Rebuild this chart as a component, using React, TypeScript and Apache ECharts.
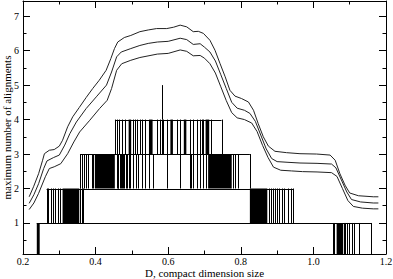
import React, { useEffect, useRef } from "react";
import * as echarts from "echarts";

// ---- data ----
const xTickLabels = ["0.2", "0.4", "0.6", "0.8", "1.0", "1.2"];
const yMajorTicks = [1, 2, 3, 4, 5, 6, 7];
const yMinorTicks = [0.5, 1.5, 2.5, 3.5, 4.5, 5.5, 6.5];

const upperCurve = [
  [0.217, 1.76], [0.229, 2.05], [0.243, 2.43], [0.254, 2.82], [0.259, 3.01], [0.2725, 3.11],
  [0.286, 3.13], [0.3, 3.23], [0.309, 3.4], [0.323, 3.79], [0.337, 4.08], [0.355, 4.35],
  [0.374, 4.64], [0.392, 4.9], [0.41, 5.14], [0.429, 5.43], [0.442, 5.77], [0.452, 6.06],
  [0.461, 6.25], [0.479, 6.38], [0.497, 6.44], [0.522, 6.55], [0.545, 6.6], [0.568, 6.64],
  [0.596, 6.64], [0.615, 6.68], [0.633, 6.74], [0.651, 6.69], [0.669, 6.55], [0.683, 6.56],
  [0.697, 6.5], [0.715, 6.3], [0.729, 6.01], [0.743, 5.62], [0.757, 5.24], [0.77, 4.85],
  [0.784, 4.68], [0.802, 4.61], [0.821, 4.51], [0.835, 4.27], [0.848, 3.88], [0.862, 3.5],
  [0.876, 3.23], [0.894, 3.08], [0.926, 3.04], [0.963, 3.01], [1.009, 3.0], [1.046, 2.97],
  [1.06, 2.82], [1.073, 2.43], [1.087, 2.1], [1.1, 1.87], [1.124, 1.79], [1.165, 1.76], [1.179, 1.76],
];

const middleCurve = [
  [0.217, 1.57], [0.23, 1.82], [0.243, 2.14], [0.257, 2.58], [0.266, 2.8], [0.2845, 2.9],
  [0.3, 2.97], [0.315, 3.26], [0.329, 3.59], [0.347, 3.93], [0.374, 4.32], [0.402, 4.66],
  [0.43, 5.0], [0.444, 5.38], [0.458, 5.82], [0.4706, 5.96], [0.497, 6.06], [0.522, 6.15],
  [0.545, 6.21], [0.57, 6.25], [0.6, 6.27], [0.633, 6.36], [0.651, 6.32], [0.669, 6.18],
  [0.688, 6.2], [0.7, 6.1], [0.715, 5.96], [0.73, 5.7], [0.745, 5.3], [0.76, 4.9], [0.775, 4.5],
  [0.79, 4.33], [0.81, 4.27], [0.825, 4.18], [0.84, 3.95], [0.855, 3.55], [0.87, 3.15],
  [0.885, 2.87], [0.9, 2.78], [0.93, 2.76], [0.963, 2.74], [1.01, 2.73], [1.05, 2.71],
  [1.062, 2.6], [1.077, 2.25], [1.092, 1.9], [1.105, 1.68], [1.13, 1.61], [1.165, 1.58], [1.179, 1.58],
];

const lowerCurve = [
  [0.217, 1.39], [0.23, 1.58], [0.243, 1.86], [0.2615, 2.34], [0.2725, 2.58], [0.286, 2.63],
  [0.304, 2.72], [0.323, 3.01], [0.34, 3.35], [0.356, 3.64], [0.384, 3.98], [0.411, 4.32],
  [0.432, 4.56], [0.444, 4.9], [0.458, 5.43], [0.472, 5.62], [0.497, 5.72], [0.522, 5.8],
  [0.57, 5.9], [0.6, 5.92], [0.633, 6.02], [0.651, 5.98], [0.669, 5.85], [0.688, 5.86],
  [0.7, 5.78], [0.715, 5.62], [0.73, 5.35], [0.745, 4.95], [0.76, 4.55], [0.775, 4.2],
  [0.79, 4.05], [0.81, 4.0], [0.83, 3.9], [0.845, 3.65], [0.86, 3.25], [0.875, 2.9],
  [0.89, 2.62], [0.91, 2.53], [0.94, 2.51], [0.97, 2.49], [1.01, 2.48], [1.05, 2.46],
  [1.065, 2.35], [1.08, 2.0], [1.095, 1.65], [1.11, 1.48], [1.135, 1.43], [1.165, 1.41], [1.179, 1.41],
];

// horizontal level lines: [xStart, xEnd, level]
const levelSpans = [
  [0.238, 1.16, 1],
  [0.265, 0.945, 2],
  [0.357, 0.825, 3],
  [0.4534, 0.747, 4],
];

// vertical impulse x positions, drawn from level-1 up to level
const level1Lines = [1.055, 1.058, 1.085, 1.088, 1.093, 1.099, 1.105, 1.112, 1.125, 1.16];
const level1Bands = [[0.238, 0.246], [1.064, 1.082]];
const level2Lines = [0.265, 0.2698, 0.276, 0.283, 0.288, 0.297, 0.302, 0.358, 0.362, 0.364,
  0.877, 0.882, 0.888, 0.893, 0.9, 0.906, 0.913, 0.92, 0.93, 0.938, 0.945];
const level2Bands = [[0.309, 0.355], [0.825, 0.873]];
const level3Lines = [0.357, 0.362, 0.368, 0.3735, 0.38, 0.39, 0.394, 0.458, 0.461, 0.463, 0.466,
  0.469, 0.472, 0.475, 0.479, 0.483, 0.487, 0.491, 0.496, 0.503, 0.51, 0.518, 0.527, 0.535, 0.548,
  0.559, 0.596, 0.632, 0.66, 0.664, 0.669, 0.678, 0.688, 0.697, 0.704, 0.779, 0.784, 0.793, 0.825];
const level3Bands = [[0.398, 0.453], [0.71, 0.775]];
const level4Lines = [0.4534, 0.458, 0.4654, 0.472, 0.481, 0.504, 0.5086, 0.513, 0.522, 0.529,
  0.536, 0.568, 0.577, 0.582, 0.587, 0.596, 0.623, 0.633, 0.66, 0.669, 0.678, 0.6876, 0.692,
  0.697, 0.718, 0.747];
const level4Bands = [[0.491, 0.498], [0.547, 0.557], [0.606, 0.613], [0.643, 0.65], [0.703, 0.713]];
const level5Lines = [0.582];

const FONT = "Liberation Serif";

export default function App() {
  const ref = useRef<HTMLDivElement>(null);

  useEffect(() => {
    if (!ref.current) return;
    const chart = echarts.init(ref.current, undefined, { renderer: "svg" });

    // [x0, x1, level, kind]  kind: 0 = impulse line, 1 = dense band, 2 = level span
    const marks: number[][] = [];
    const lineSets: [number[], number][] = [
      [level1Lines, 1], [level2Lines, 2], [level3Lines, 3], [level4Lines, 4], [level5Lines, 5],
    ];
    lineSets.forEach(([xs, lv]) => xs.forEach((x) => marks.push([x, x, lv, 0])));
    const bandSets: [number[][], number][] = [
      [level1Bands, 1], [level2Bands, 2], [level3Bands, 3], [level4Bands, 4],
    ];
    bandSets.forEach(([bs, lv]) => bs.forEach((b) => marks.push([b[0], b[1], lv, 1])));
    levelSpans.forEach((s) => marks.push([s[0], s[1], s[2], 2]));

    const lineStyle = { color: "#000", width: 1 };
    const textStyle = { fontFamily: FONT, fontSize: 10, color: "#000" };

    const yBase = { type: "value", min: 0.1, max: 7.44, splitLine: { show: false } };
    const xBase = {
      type: "value", min: 0.2, max: 1.2, interval: 0.2, splitLine: { show: false },
      minorSplitLine: { show: false },
    };

    const curve = (data: number[][]) => ({
      type: "line", data, showSymbol: false, symbol: "none", silent: true,
      lineStyle: { color: "#222", width: 1 }, xAxisIndex: 0, yAxisIndex: 0,
    });

    chart.setOption({
      animation: false,
      backgroundColor: "#fff",
      grid: {
        left: 23, right: 7, top: 1, bottom: 25, containLabel: false,
        outerBoundsMode: "none",
      },
      xAxis: [
        {
          ...xBase, position: "bottom",
          name: "D, compact dimension size", nameLocation: "middle", nameGap: 13,
          nameMoveOverlap: false,
          nameTextStyle: { fontFamily: FONT, fontSize: 11, color: "#000" },
          axisLine: { show: true, onZero: false, lineStyle },
          axisTick: { show: true, inside: true, length: 7, lineStyle },
          minorTick: { show: true, splitNumber: 2, length: 3.5, lineStyle },
          axisLabel: {
            ...textStyle, margin: 2,
            formatter: (v: number) => xTickLabels[Math.round((v - 0.2) / 0.2)] ?? "",
          },
        },
        {
          ...xBase, position: "top",
          axisLine: { show: true, onZero: false, lineStyle },
          axisTick: { show: true, inside: true, length: 7, lineStyle },
          minorTick: { show: true, splitNumber: 2, length: 3.5, lineStyle },
          axisLabel: { show: false },
        },
      ],
      yAxis: [
        {
          ...yBase, position: "left",
          name: "maximum number of alignments", nameLocation: "middle", nameGap: 11,
          nameMoveOverlap: false,
          nameTextStyle: { fontFamily: FONT, fontSize: 11, color: "#000" },
          axisLine: { show: true, onZero: false, lineStyle },
          axisTick: { show: true, inside: true, length: 7, lineStyle, customValues: yMajorTicks },
          axisLabel: { ...textStyle, margin: 4, customValues: yMajorTicks },
        },
        {
          ...yBase, position: "left",
          axisLine: { show: false },
          axisTick: { show: true, inside: true, length: 3.5, lineStyle, customValues: yMinorTicks },
          axisLabel: { show: false },
        },
        {
          ...yBase, position: "right",
          axisLine: { show: true, onZero: false, lineStyle },
          axisTick: { show: true, inside: true, length: 7, lineStyle, customValues: yMajorTicks },
          axisLabel: { show: false },
        },
        {
          ...yBase, position: "right",
          axisLine: { show: false },
          axisTick: { show: true, inside: true, length: 3.5, lineStyle, customValues: yMinorTicks },
          axisLabel: { show: false },
        },
      ],
      series: [
        {
          type: "custom",
          xAxisIndex: 0,
          yAxisIndex: 0,
          clip: true,
          silent: true,
          encode: { x: [0, 1], y: 2 },
          data: marks,
          renderItem: (params: any, api: any) => {
            const x0 = api.value(0), x1 = api.value(1), lv = api.value(2), kind = api.value(3);
            if (kind === 0) {
              const a = api.coord([x0, lv - 1]);
              const b = api.coord([x0, lv]);
              const px = Math.round(a[0]) + 0.5;
              return {
                type: "line",
                shape: { x1: px, y1: a[1], x2: px, y2: b[1] },
                style: { stroke: "#000", lineWidth: 1 },
              };
            }
            if (kind === 1) {
              const a = api.coord([x0, lv]);
              const b = api.coord([x1, lv - 1]);
              return {
                type: "rect",
                shape: { x: a[0], y: a[1], width: b[0] - a[0], height: b[1] - a[1] },
                style: { fill: "#000" },
              };
            }
            const a = api.coord([x0, lv]);
            const b = api.coord([x1, lv]);
            const py = Math.round(a[1]) + 0.5;
            return {
              type: "line",
              shape: { x1: a[0], y1: py, x2: b[0], y2: py },
              style: { stroke: "#000", lineWidth: 1 },
            };
          },
        },
        curve(upperCurve),
        curve(middleCurve),
        curve(lowerCurve),
      ],
    });

    return () => chart.dispose();
  }, []);

  return (
    <div
      ref={ref}
      style={{ position: "absolute", left: 0, top: 0, width: 393, height: 279, background: "#fff" }}
    />
  );
}
